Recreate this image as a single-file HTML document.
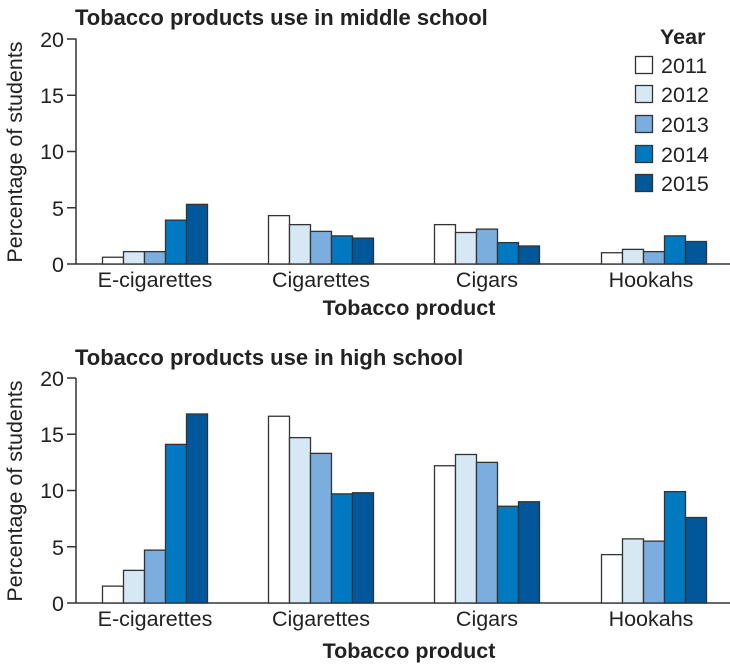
<!DOCTYPE html>
<html><head><meta charset="utf-8"><style>
html,body{margin:0;padding:0;background:#fff;}
svg{display:block;font-family:"Liberation Sans",sans-serif;}
</style></head><body>
<svg width="730" height="669" viewBox="0 0 730 669" xmlns="http://www.w3.org/2000/svg">
<defs>
<style>
.t{font-size:22px;fill:#222;font-weight:bold;}
.k{font-size:21.5px;fill:#222;}
.b{stroke:#333;stroke-width:1.3;}
</style>
</defs>
<text x="75" y="25" class="t">Tobacco products use in middle school</text>
<line x1="76" y1="38.5" x2="76" y2="264" stroke="#333" stroke-width="1.5"/>
<line x1="76" y1="264" x2="730" y2="264" stroke="#333" stroke-width="1.5"/>
<g stroke="#333" stroke-width="1.5">
<line x1="67" y1="264" x2="76" y2="264"/><line x1="67" y1="207.75" x2="76" y2="207.75"/><line x1="67" y1="151.5" x2="76" y2="151.5"/><line x1="67" y1="95.25" x2="76" y2="95.25"/><line x1="67" y1="39" x2="76" y2="39"/>
</g>
<g class="k" text-anchor="end">
<text x="64" y="272">0</text><text x="64" y="216">5</text><text x="64" y="159">10</text><text x="64" y="103">15</text><text x="64" y="47">20</text>
</g>
<text class="k" transform="translate(22,152) rotate(-90)" text-anchor="middle">Percentage of students</text>
<g class="k" text-anchor="middle">
<text x="155" y="287">E-cigarettes</text><text x="321" y="287">Cigarettes</text><text x="487" y="287">Cigars</text><text x="651" y="287">Hookahs</text>
</g>
<text x="409" y="315" class="k" text-anchor="middle" style="font-weight:bold">Tobacco product</text>

<text x="75" y="365" class="t">Tobacco products use in high school</text>
<line x1="76" y1="378" x2="76" y2="603" stroke="#333" stroke-width="1.5"/>
<line x1="76" y1="603" x2="730" y2="603" stroke="#333" stroke-width="1.5"/>
<g stroke="#333" stroke-width="1.5">
<line x1="67" y1="603" x2="76" y2="603"/><line x1="67" y1="546.75" x2="76" y2="546.75"/><line x1="67" y1="490.5" x2="76" y2="490.5"/><line x1="67" y1="434.25" x2="76" y2="434.25"/><line x1="67" y1="378" x2="76" y2="378"/>
</g>
<g class="k" text-anchor="end">
<text x="64" y="611">0</text><text x="64" y="555">5</text><text x="64" y="498">10</text><text x="64" y="442">15</text><text x="64" y="386">20</text>
</g>
<text class="k" transform="translate(22,491) rotate(-90)" text-anchor="middle">Percentage of students</text>
<g class="k" text-anchor="middle">
<text x="155" y="626">E-cigarettes</text><text x="321" y="626">Cigarettes</text><text x="487" y="626">Cigars</text><text x="651" y="626">Hookahs</text>
</g>
<text x="409" y="658" class="k" text-anchor="middle" style="font-weight:bold">Tobacco product</text>

<g id="bars"></g>
<text x="660" y="44" class="k" style="font-weight:bold">Year</text>
<g class="b">
<rect x="635.5" y="56.5" width="17" height="17" fill="#fff"/>
<rect x="635.5" y="85.5" width="17" height="17" fill="#d6e8f3"/>
<rect x="635.5" y="115.5" width="17" height="17" fill="#7badde"/>
<rect x="635.5" y="145.5" width="17" height="17" fill="#0079c1"/>
<rect x="635.5" y="174.5" width="17" height="17" fill="#00579a"/>
</g>
<g class="k">
<text x="661" y="73">2011</text><text x="661" y="102">2012</text><text x="661" y="132">2013</text><text x="661" y="162">2014</text><text x="661" y="191">2015</text>
</g>
</svg>
<script>
(function(){
var cols=["#fff","#d6e8f3","#7badde","#0079c1","#00579a"];
var dT=[[0.6,1.1,1.1,3.9,5.3],[4.3,3.5,2.9,2.5,2.3],[3.5,2.8,3.1,1.9,1.6],[1.0,1.3,1.1,2.5,2.0]];
var dB=[[1.5,2.9,4.7,14.1,16.8],[16.6,14.7,13.3,9.7,9.8],[12.2,13.2,12.5,8.6,9.0],[4.3,5.7,5.5,9.9,7.6]];
var starts=[102,268,434,601];
var g=document.getElementById("bars");
var NS="http://www.w3.org/2000/svg";
function draw(d,base){for(var i=0;i<4;i++)for(var j=0;j<5;j++){var h=d[i][j]*11.25;var r=document.createElementNS(NS,"rect");r.setAttribute("class","b");r.setAttribute("x",starts[i]+j*21+0.5);r.setAttribute("y",base-h);r.setAttribute("width",21);r.setAttribute("height",h);r.setAttribute("fill",cols[j]);g.appendChild(r);}}
draw(dT,264);draw(dB,603);
})();
</script>
</body></html>
